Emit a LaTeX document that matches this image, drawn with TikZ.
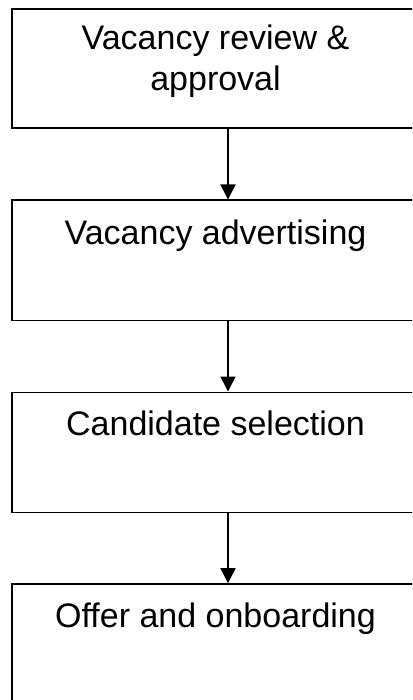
\documentclass[tikz,border=0pt]{standalone}
\usepackage{fontspec}
\setmainfont{Liberation Sans}
\usetikzlibrary{arrows.meta}
\begin{document}
\begin{tikzpicture}[x=1pt,y=-1pt,
  stagebox/.style={draw=black, line width=1.6pt, rectangle, inner sep=0pt,
                   minimum width=407pt, minimum height=120pt},
  stagetext/.style={font=\fontsize{34}{41}\selectfont, inner sep=0pt,
                    anchor=base, align=center},
  flow/.style={line width=1.6pt, -{Triangle[width=15pt,length=15pt]}}]
  \useasboundingbox (0,0) rectangle (412,700);
  \clip (0,0) rectangle (412,700);

  % the four stages of the hiring process
  \node[stagebox, minimum height=119pt] (b1) at (215.5,68.5) {};
  \node[stagebox] (b2) at (215.5,260.3) {};
  \node[stagebox] (b3) at (215.5,452.3) {};
  \node[stagebox] (b4) at (215.5,644) {};

  % base of a two-line node sits on its last line
  \node[stagetext] (t1) at (215.5,91) {Vacancy review \&\\approval};
  \node[stagetext] (t2) at (215.5,244) {Vacancy advertising};
  \node[stagetext] (t3) at (215.5,435) {Candidate selection};
  \node[stagetext] (t4) at (215.5,627) {Offer and onboarding};

  % connectors run slightly right of the box centre
  \coordinate (ax) at (228,0);
  \draw[flow] (b1.south -| ax) -- (b2.north -| ax);
  \draw[flow] (b2.south -| ax) -- (b3.north -| ax);
  \draw[flow] (b3.south -| ax) -- (b4.north -| ax);
\end{tikzpicture}
\end{document}
